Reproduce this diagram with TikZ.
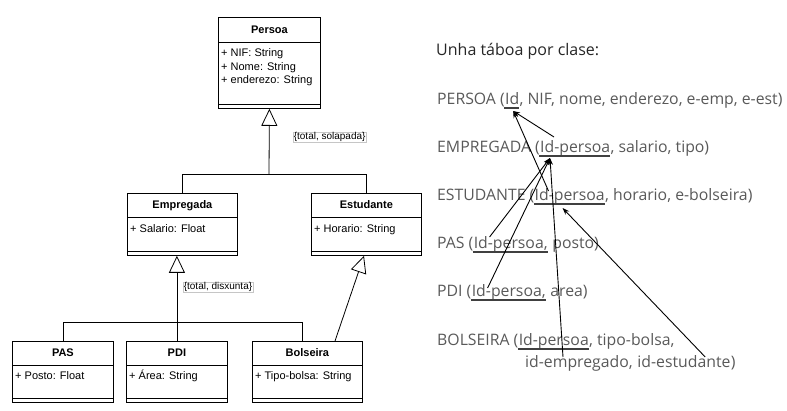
\documentclass[tikz,border=0pt]{standalone}
\usepackage{fontspec}
\setmainfont{Liberation Sans}
\newfontfamily\rfont{Open Sans}
\usetikzlibrary{arrows.meta,calc}
\definecolor{txtgray}{HTML}{595959}
\definecolor{titgray}{HTML}{262626}
\definecolor{ulgray}{HTML}{404040}
\begin{document}
\begin{tikzpicture}[x=1pt,y=-1pt,
  umlbox/.style={draw, line width=0.8pt, inner sep=0pt, anchor=north west},
  umltitle/.style={font=\fontsize{11}{13}\selectfont\bfseries, inner sep=0pt, anchor=base},
  umlattr/.style={font=\fontsize{11}{13}\selectfont, inner sep=0pt, anchor=base west},
  umlline/.style={line width=0.8pt},
  conn/.style={line width=0.8pt},
  gen/.style={line width=0.8pt, -{Triangle[open, length=17pt, width=16pt]}},
  constr/.style={font=\fontsize{10}{12}\selectfont, draw=gray!45, fill=white, inner sep=0.6pt, anchor=west},
  rt/.style={font=\rfont\fontsize{15.8}{19}\selectfont, text=txtgray, inner sep=0pt, anchor=base west},
  ul/.style={draw=ulgray, line width=1.8pt},
  fk/.style={line width=0.9pt, -{Stealth[length=7pt, width=5pt]}}
]
\useasboundingbox (0,0) rectangle (787,411);

% ---------- UML boxes ----------
\node[umlbox, minimum width=102pt, minimum height=91pt] (persoa) at (218,17) {};
\draw[umlline] ($(persoa.north west)+(0,25)$) -- ($(persoa.north east)+(0,25)$);
\draw[umlline] ($(persoa.south west)+(0,-4)$) -- ($(persoa.south east)+(0,-4)$);
\node[umltitle] (persoaT) at ($(persoa.north)+(0,17)$) {Persoa};
\node[umlattr] (persoaA1) at ($(persoa.north west)+(3,40)$) {+ NIF: String};
\node[umlattr] (persoaA2) at ($(persoa.north west)+(3,53.5)$) {+ Nome: String};
\node[umlattr] (persoaA3) at ($(persoa.north west)+(3,67)$) {+ enderezo: String};

\node[umlbox, minimum width=110pt, minimum height=62pt] (empregada) at (127,193) {};
\draw[umlline] ($(empregada.north west)+(0,24)$) -- ($(empregada.north east)+(0,24)$);
\draw[umlline] ($(empregada.south west)+(0,-4)$) -- ($(empregada.south east)+(0,-4)$);
\node[umltitle] (empregadaT) at ($(empregada.north)+(0,16)$) {Empregada};
\node[umlattr] (empregadaA) at ($(empregada.north west)+(3,40)$) {+ Salario: Float};

\node[umlbox, minimum width=110pt, minimum height=62pt] (estudante) at (311,193) {};
\draw[umlline] ($(estudante.north west)+(0,24)$) -- ($(estudante.north east)+(0,24)$);
\draw[umlline] ($(estudante.south west)+(0,-4)$) -- ($(estudante.south east)+(0,-4)$);
\node[umltitle] (estudanteT) at ($(estudante.north)+(0,16)$) {Estudante};
\node[umlattr] (estudanteA) at ($(estudante.north west)+(3,40)$) {+ Horario: String};

\node[umlbox, minimum width=101pt, minimum height=61pt] (pas) at (12,341) {};
\draw[umlline] ($(pas.north west)+(0,24)$) -- ($(pas.north east)+(0,24)$);
\draw[umlline] ($(pas.south west)+(0,-4)$) -- ($(pas.south east)+(0,-4)$);
\node[umltitle] (pasT) at ($(pas.north)+(0,16)$) {PAS};
\node[umlattr] (pasA) at ($(pas.north west)+(3,39)$) {+ Posto: Float};

\node[umlbox, minimum width=101pt, minimum height=61pt] (pdi) at (126,341) {};
\draw[umlline] ($(pdi.north west)+(0,24)$) -- ($(pdi.north east)+(0,24)$);
\draw[umlline] ($(pdi.south west)+(0,-4)$) -- ($(pdi.south east)+(0,-4)$);
\node[umltitle] (pdiT) at ($(pdi.north)+(0,16)$) {PDI};
\node[umlattr] (pdiA) at ($(pdi.north west)+(3,39)$) {+ Área: String};

\node[umlbox, minimum width=110pt, minimum height=61pt] (bolseira) at (252,341) {};
\draw[umlline] ($(bolseira.north west)+(0,24)$) -- ($(bolseira.north east)+(0,24)$);
\draw[umlline] ($(bolseira.south west)+(0,-4)$) -- ($(bolseira.south east)+(0,-4)$);
\node[umltitle] (bolseiraT) at ($(bolseira.north)+(0,16)$) {Bolseira};
\node[umlattr] (bolseiraA) at ($(bolseira.north west)+(3,39)$) {+ Tipo-bolsa: String};

% ---------- generalisations ----------
\coordinate (j1) at (269,174);
\draw[conn] (empregada.north) |- (j1);
\draw[conn] (estudante.north) |- (j1);
\draw[gen] (j1) -- (persoa.south);
\node[constr] (solapada) at (293,137) {\{total, solapada\}};

\coordinate (j2) at (177,322);
\coordinate (bolTop) at ($(bolseira.north west)+(50,0)$);
\draw[conn] (pas.north) |- (j2);
\draw[conn] (bolTop) |- (j2);
\draw[gen] (pdi.north) -- (pdi.north |- empregada.south);
\node[constr] (disxunta) at (183,287) {\{total, disxunta\}};

\coordinate (bolEst) at ($(bolseira.north west)+(83,0)$);
\coordinate (estIn) at ($(estudante.south west)+(53,0)$);
\draw[gen] (bolEst) -- (estIn);

% ---------- relational schema ----------
\node[rt, font=\rfont\fontsize{16}{19}\selectfont, text=titgray] (titulo) at (436,56) {Unha táboa por clase:};

\node[rt] (p0) at (437,105) {PERSOA (};
\node[rt] (pId) at (p0.base east) {Id};
\node[rt] (p1) at (pId.base east) {, NIF, nome, enderezo, e-emp, e-est)};

\node[rt] (e0) at (437,153) {EMPREGADA (};
\node[rt] (eId) at (e0.base east) {Id-persoa};
\node[rt] (e1) at (eId.base east) {, salario, tipo)};

\node[rt] (s0) at (437,201) {ESTUDANTE (};
\node[rt] (sId) at (s0.base east) {Id-persoa};
\node[rt] (s1) at (sId.base east) {, horario, e-bolseira)};

\node[rt] (a0) at (437,249) {PAS (};
\node[rt] (aId) at (a0.base east) {Id-persoa,};
\node[rt] (a1) at (aId.base east) {\kern0.27em posto)};

\node[rt] (d0) at (437,297) {PDI (};
\node[rt] (dId) at (d0.base east) {Id-persoa,};
\node[rt] (d1) at (dId.base east) {\kern0.27em area)};

\node[rt] (b0) at (437,346) {BOLSEIRA (};
\node[rt] (bId) at (b0.base east) {Id-persoa};
\node[rt] (b1) at (bId.base east) {, tipo-bolsa,};
\node[rt] (bEmp) at (525,368) {id-empregado,\kern0.27em};
\node[rt] (bEst) at (bEmp.base east) {id-estudante};
\node[rt] (b2) at (bEst.base east) {)};

% underlines
\draw[ul] ($(pId.base west)+(-1,3)$) -- ($(pId.base east)+(0,3)$);
\draw[ul] ($(eId.base west)+(-1,3)$) -- ($(eId.base east)+(0,3)$);
\draw[ul] ($(sId.base west)+(-1,3)$) -- ($(sId.base east)+(0,3)$);
\draw[ul] ($(aId.base west)+(-1,3)$) -- ($(aId.base east)+(0,3)$);
\draw[ul] ($(dId.base west)+(-1,3)$) -- ($(dId.base east)+(0,3)$);
\draw[ul] ($(bId.base west)+(-1,3)$) -- ($(bId.base east)+(0,3)$);

% foreign-key arrows
\coordinate (toPersoa) at ($(pId.base)+(1,6)$);
\coordinate (toEmpregada) at ($(eId.base west)+(10,5)$);
\coordinate (toEstudante) at ($(sId.base west)+(28,7)$);
\coordinate (fromEmp) at ($(eId.base west)+(14,-16)$);
\coordinate (fromEst) at ($(sId.base west)+(14,-10)$);
\coordinate (fromPas) at ($(aId.base west)+(16,-12)$);
\coordinate (fromPdi) at ($(dId.base west)+(16,-9)$);
\coordinate (fromBolEmp) at ($(bEmp.base west)+(38,-11)$);
\coordinate (fromBolEst) at ($(bEst.base west)+(68,-11)$);

\draw[fk] (fromEmp) -- (toPersoa);
\draw[fk] (fromEst) -- (toPersoa);
\draw[fk] (fromPas) -- (toEmpregada);
\draw[fk] (fromPdi) -- (toEmpregada);
\draw[fk] (fromBolEmp) -- (toEmpregada);
\draw[fk] (fromBolEst) -- (toEstudante);
\end{tikzpicture}
\end{document}
